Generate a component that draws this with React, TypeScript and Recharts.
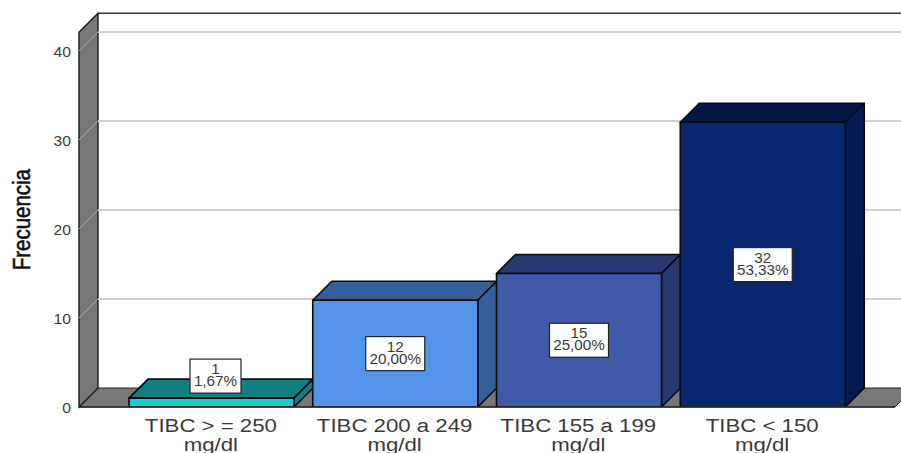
import React from "react";
import { BarChart, Bar, XAxis, YAxis, ReferenceArea, ReferenceLine, LabelList } from "recharts";

const categories = ["TIBC > = 250 mg/dl", "TIBC 200 a 249 mg/dl", "TIBC 155 a 199 mg/dl", "TIBC < 150 mg/dl"];
const frequencies = [1, 12, 15, 32];
const percentages = ["1,67%", "20,00%", "25,00%", "53,33%"];
const yTicks = [0, 10, 20, 30, 40];
const yMax = 42.1;
const frontColors = ["#1bcfd0", "#5393e8", "#4059a9", "#08276f"];
const topColors = ["#128080", "#36609a", "#283870", "#031747"];
const sideColors = ["#128080", "#36609a", "#283870", "#041a50"];

const rows = categories.map((category, i) => ({ category, frequency: frequencies[i], percent: percentages[i] }));

const DEPTH = 19;
const PAD_LEFT = 41;
const PAD_RIGHT = 40;
const WALL = "#777777";
const INK = "#3a3a3a";
const STRETCH = 1.17;

// Extruded bar: front face plus top and right side offset by the chart depth.
function Box3D(props: any) {
  const { x, y, width, height, index } = props;
  const r = x + width;
  const b = y + height;
  const stroke = { stroke: "#0a0a14", strokeWidth: 1.6, strokeLinejoin: "round" as const };
  return (
    <g>
      <polygon points={`${x},${y} ${x + DEPTH},${y - DEPTH} ${r + DEPTH},${y - DEPTH} ${r},${y}`} fill={topColors[index]} {...stroke} />
      <polygon points={`${r},${y} ${r + DEPTH},${y - DEPTH} ${r + DEPTH},${b - DEPTH} ${r},${b}`} fill={sideColors[index]} {...stroke} />
      <rect x={x} y={y} width={width} height={height} fill={frontColors[index]} {...stroke} />
    </g>
  );
}

// Left wall, floor and back wall of the chart box; the area spans only the padded
// band range, so the walls widen it back out to the full plot width.
function Walls(props: any) {
  const { y, height } = props;
  const x = props.x - PAD_LEFT;
  const width = props.width + PAD_LEFT + PAD_RIGHT;
  const b = y + height;
  const top = y - DEPTH;
  return (
    <g>
      <polygon points={`${x},${b} ${x + DEPTH},${b - DEPTH} ${x + width + DEPTH},${b - DEPTH} ${x + width},${b}`} fill={WALL} stroke="#2a2a2a" strokeWidth={1} />
      <polygon points={`${x},${y} ${x + DEPTH},${top} ${x + DEPTH},${b - DEPTH} ${x},${b}`} fill={WALL} stroke="#1a1a1a" strokeWidth={1.4} />
      <line x1={x + DEPTH} y1={top} x2={x + width + DEPTH} y2={top} stroke="#333333" strokeWidth={1.4} />
    </g>
  );
}

// Gridline on the back wall with its diagonal run down the left wall.
function WallGridLine(props: any) {
  const { x1, y1, x2, y2 } = props;
  const lineY = y1 - DEPTH;
  return (
    <g>
      <line x1={x1} y1={y1} x2={x1 + DEPTH} y2={lineY} stroke="#a8a8a8" strokeWidth={1} />
      <line x1={x1 + DEPTH} y1={lineY} x2={x2 + DEPTH} y2={y2 - DEPTH} stroke="#cfcfcf" strokeWidth={1.8} />
    </g>
  );
}

function CategoryTick(props: any) {
  const { x, y, payload } = props;
  const split = payload.value.lastIndexOf(" ");
  const lines = [payload.value.slice(0, split), payload.value.slice(split + 1)];
  return (
    <text transform={`translate(${x - 1},${y}) scale(${STRETCH},1)`} textAnchor="middle" fontSize={19} fill={INK} fontFamily="Liberation Sans">
      <tspan x={0} y={17}>{lines[0]}</tspan>
      <tspan x={0} y={36}>{lines[1]}</tspan>
    </text>
  );
}

function ValueTick(props: any) {
  const { x, y, payload } = props;
  return (
    <text transform={`translate(${x},${y}) scale(1.12,1)`} textAnchor="end" fontSize={14} dy={6} fill={INK} fontFamily="Liberation Sans">
      {payload.value}
    </text>
  );
}

function AxisTitle(props: any) {
  const { viewBox } = props;
  const cy = viewBox.y + viewBox.height / 2;
  return (
    <text transform={`translate(30,${cy}) scale(${STRETCH},1) rotate(-90)`} textAnchor="middle" fontSize={20.5} stroke="#111111" strokeWidth={0.5} fill="#111111" fontFamily="Liberation Sans">
      Frecuencia
    </text>
  );
}

// White value box; bars too short to hold it carry the box above their top.
function ValueBox(props: any) {
  const { x, y, width, height, value, index } = props;
  const w = percentages[index].length > 5 ? 59 : 51;
  const h = 34;
  const short = height < h;
  const cx = x + width / 2 + (short ? 4 : 0);
  const cy = short ? y - 5 - h / 2 : y + height / 2;
  return (
    <g>
      <rect x={cx - w / 2} y={cy - h / 2} width={w} height={h} fill="#ffffff" stroke="#222222" strokeWidth={1.2} />
      <text transform={`translate(${cx},${cy}) scale(1.09,1)`} textAnchor="middle" fontSize={14} fill={INK} fontFamily="Liberation Sans">
        <tspan x={0} y={-2}>{value}</tspan>
        <tspan x={0} y={10}>{percentages[index]}</tspan>
      </text>
    </g>
  );
}

export default function App() {
  return (
    <div style={{ position: "absolute", left: 0, top: 0, width: 901, height: 453, overflow: "hidden", background: "#fff" }}>
      <BarChart width={901} height={453} data={rows} margin={{ top: 32.3, right: 6, bottom: 0, left: 0 }} barSize={165}>
        <XAxis
          dataKey="category"
          interval={0}
          height={46}
          padding={{ left: PAD_LEFT, right: PAD_RIGHT }}
          tick={<CategoryTick />}
          tickLine={false}
          axisLine={{ stroke: "#2a2a2a", strokeWidth: 1.4 }}
        />
        <YAxis
          width={79}
          domain={[0, yMax]}
          ticks={yTicks}
          tick={<ValueTick />}
          tickLine={false}
          axisLine={false}
          tickMargin={2}
          label={<AxisTitle />}
          allowDataOverflow
        />
        <ReferenceArea y1={0} y2={yMax} ifOverflow="visible" shape={<Walls />} zIndex={-20} />
        {yTicks.slice(1).map((t) => (
          <ReferenceLine key={t} y={t} ifOverflow="visible" shape={<WallGridLine />} zIndex={-10} />
        ))}
        <Bar dataKey="frequency" isAnimationActive={false} shape={<Box3D />}>
          <LabelList dataKey="frequency" content={<ValueBox />} />
        </Bar>
      </BarChart>
    </div>
  );
}
